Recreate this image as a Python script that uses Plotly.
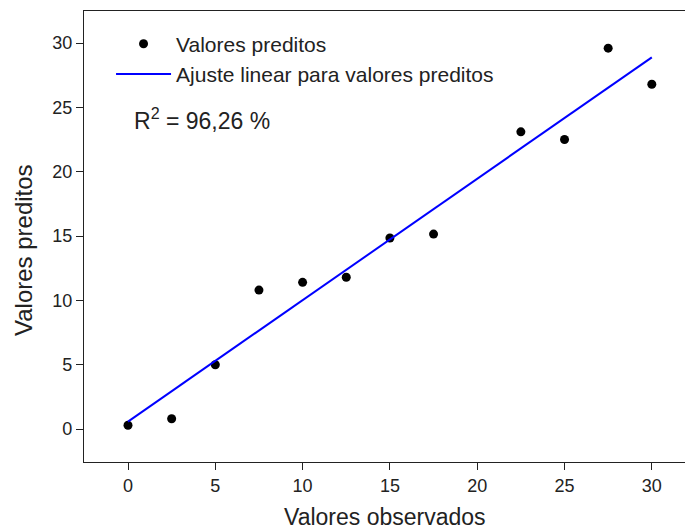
import numpy as np
import plotly.graph_objects as go

observed = [0, 2.5, 5, 7.5, 10, 12.5, 15, 17.5, 22.5, 25, 27.5, 30]
predicted = [0.3, 0.8, 5.0, 10.8, 11.4, 11.8, 14.85, 15.15, 23.1, 22.5, 29.6, 26.8]
x_ticks = [0, 5, 10, 15, 20, 25, 30]
y_ticks = [0, 5, 10, 15, 20, 25, 30]
r2_text = "R<sup>2</sup> = 96,26 %"

slope, intercept = np.polyfit(observed, predicted, 1)
fit_x = [min(observed), max(observed)]
fit_y = [slope * v + intercept for v in fit_x]

FONT = "Liberation Sans, Arial, sans-serif"
INK = "#222222"

fig = go.Figure()
fig.add_trace(go.Scatter(
    x=observed, y=predicted, mode="markers",
    marker=dict(color="black", size=9),
    name="Valores preditos",
))
fig.add_trace(go.Scatter(
    x=fit_x, y=fit_y, mode="lines",
    line=dict(color="#0000FF", width=2),
    name="Ajuste linear para valores preditos",
))

axis_common = dict(
    showgrid=False, zeroline=False, showline=True, linecolor=INK, linewidth=1.3,
    ticks="outside", ticklen=7, tickwidth=1.3, tickcolor=INK,
    tickfont=dict(family=FONT, size=18, color=INK),
)

fig.update_layout(
    width=685, height=531,
    margin=dict(l=84, r=0, t=11, b=69),
    paper_bgcolor="white", plot_bgcolor="white",
    font=dict(family=FONT, color=INK),
    xaxis=dict(range=[-2.52, 31.9], tickvals=x_ticks, mirror=True, **axis_common),
    yaxis=dict(range=[-2.56, 32.49], tickvals=y_ticks, **axis_common),
    showlegend=True,
    legend=dict(
        x=0.045, y=0.972, xanchor="left", yanchor="top",
        bgcolor="rgba(0,0,0,0)", font=dict(family=FONT, size=21, color=INK),
        itemwidth=55, tracegroupgap=0,
    ),
    annotations=[
        dict(text=r2_text, xref="paper", yref="paper", x=0.08, y=0.76,
             xanchor="left", yanchor="middle", showarrow=False,
             font=dict(family=FONT, size=23, color=INK)),
        dict(text="Valores observados", xref="paper", yref="paper", x=0.5, y=-0.123,
             xanchor="center", yanchor="middle", showarrow=False,
             font=dict(family=FONT, size=23, color=INK)),
        dict(text="Valores preditos", xref="paper", yref="paper", x=-0.1015, y=0.47,
             xanchor="center", yanchor="middle", showarrow=False, textangle=-90,
             font=dict(family=FONT, size=24, color=INK)),
    ],
)

fig.write_html("out.html", post_script="document.body.style.margin='0';",
               config={"displayModeBar": False})
